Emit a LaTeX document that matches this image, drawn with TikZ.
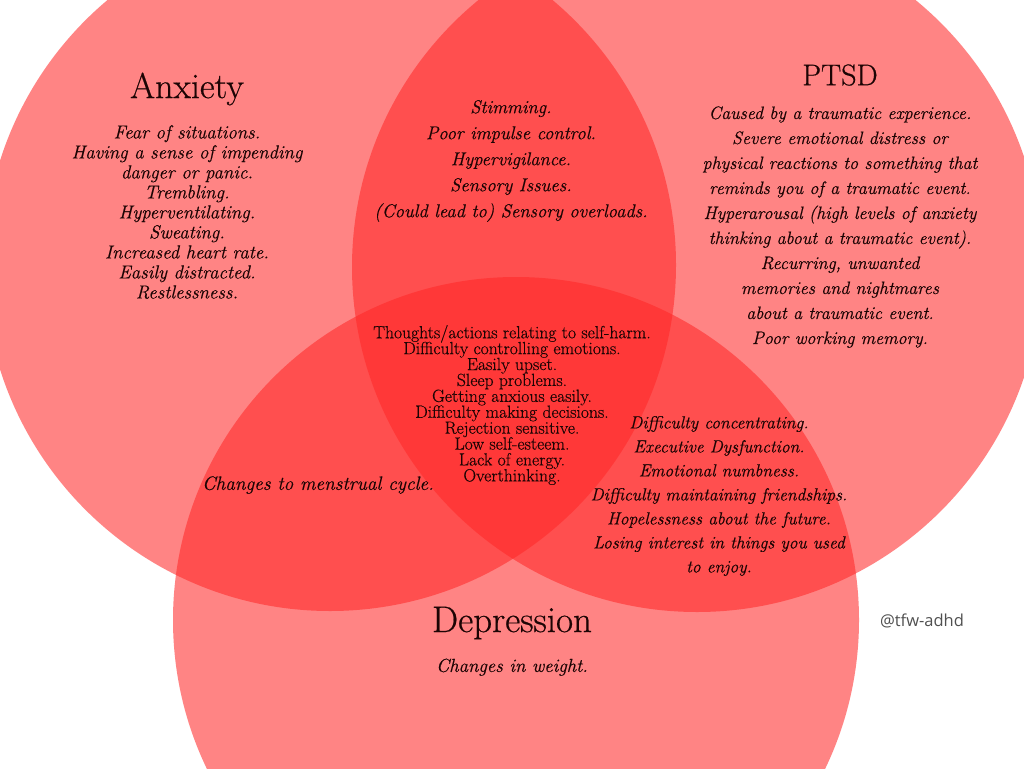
\documentclass[tikz,border=0pt]{standalone}
\usepackage{fontspec}
\setmainfont{Latin Modern Roman}[FakeBold=0.5]
\newfontfamily\tagfont{Open Sans}
\usetikzlibrary{positioning}

\definecolor{vennred}{RGB}{255,39,39}
\definecolor{ink}{RGB}{28,4,4}
\definecolor{taggray}{RGB}{80,80,80}
\newcommand\tightlines{\lineskiplimit=-100pt\relax}

\begin{document}
\begin{tikzpicture}[x=1pt, y=-1pt,
    set/.style={fill=vennred, fill opacity=0.57},
    head/.style={text=ink, inner sep=0pt, font=\fontsize{36}{40}\selectfont},
    note/.style={text=ink, inner sep=0pt, align=center, font=\itshape\fontsize{18.8}{20}\selectfont},
    wide/.style={note, font=\itshape\fontsize{18}{25}\selectfont},
    core/.style={text=ink, inner sep=0pt, align=center,
        font=\fontsize{17.6}{15.9}\selectfont\tightlines}]
    \useasboundingbox (0,0) rectangle (1024,768);
    \fill[white] (0,0) rectangle (1024,768);

    % the three sets
    \coordinate (anxc) at (330,265);
    \coordinate (ptsdc) at (697,267);
    \coordinate (depc) at (516,620);
    \begin{scope}
        \clip (0,0) rectangle (1024,768);
        \fill[set] (anxc) circle[radius=346pt];
        \fill[set] (ptsdc) circle[radius=345pt];
        \fill[set] (depc) circle[radius=343pt];
    \end{scope}

    % anxiety
    \node[head] (anxiety) at (187,89) {Anxiety};
    \node[note] (anxietytext) at (187,212) {Fear of situations.\\
        Having a sense of impending\\ danger or panic.\\ Trembling.\\
        Hyperventilating.\\ Sweating.\\ Increased heart rate.\\
        Easily distracted.\\ Restlessness.};

    % ptsd
    \node[head, font=\fontsize{30}{34}\selectfont] (ptsd) at (840,75) {PTSD};
    \node[wide] (ptsdtext) at (840,227) {Caused by a traumatic experience.\\
        Severe emotional distress or\\
        physical reactions to something that\\
        reminds you of a traumatic event.\\
        Hyperarousal (high levels of anxiety\\
        thinking about a traumatic event).\\
        Recurring, unwanted\\ memories and nightmares\\
        about a traumatic event.\\ Poor working memory.};

    % anxiety and ptsd
    \node[note, font=\itshape\fontsize{18.6}{26}\selectfont] (anxptsd) at (511,161) {Stimming.\\
        Poor impulse control.\\ Hypervigilance.\\ Sensory Issues.\\
        (Could lead to) Sensory overloads.};

    % all three
    \node[core] (allthree) at (512,405) {Thoughts/actions relating to self-harm.\\
        Difficulty controlling emotions.\\ Easily upset.\\ Sleep problems.\\
        Getting anxious easily.\\ Difficulty making decisions.\\
        Rejection sensitive.\\ Low self-esteem.\\ Lack of energy.\\ Overthinking.};

    % ptsd and depression
    \node[note, font=\itshape\fontsize{17.5}{24}\selectfont] (ptsddep) at (719,496) {Difficulty concentrating.\\
        Executive Dysfunction.\\ Emotional numbness.\\
        Difficulty maintaining friendships.\\ Hopelessness about the future.\\
        Losing interest in things you used\\ to enjoy.};

    % anxiety and depression
    \node[note, font=\itshape\fontsize{19.3}{20}\selectfont] (anxdep) at (318,485) {Changes to menstrual cycle.};

    % depression
    \node[head, font=\fontsize{37}{40}\selectfont] (depression) at (512,623) {Depression};
    \node[note, below=19pt of depression] (deptext) {Changes in weight.};

    \node[text=taggray, inner sep=0pt, font=\tagfont\fontsize{16.5}{18}\selectfont] (tag) at (922,621) {@tfw-adhd};
\end{tikzpicture}
\end{document}
